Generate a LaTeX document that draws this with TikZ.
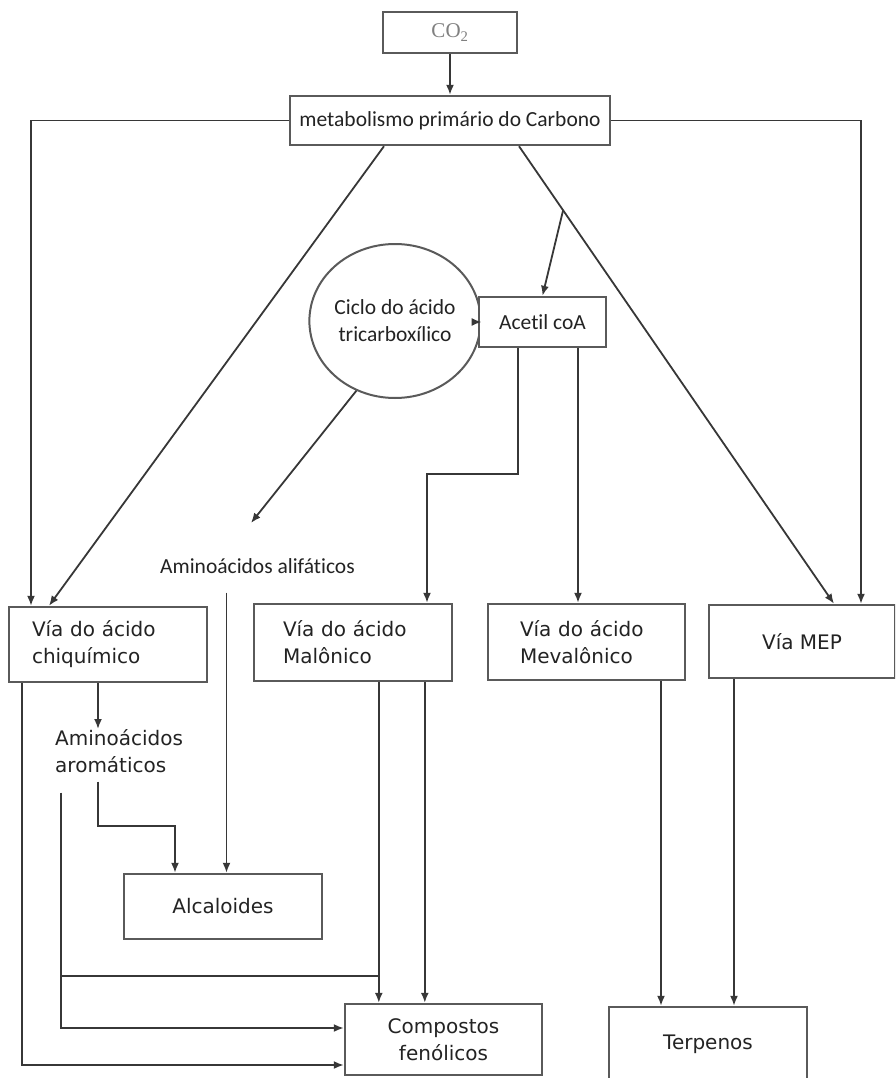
\documentclass[tikz,border=0pt]{standalone}
\usepackage{fontspec}
\setmainfont{DejaVu Sans}
\newfontfamily\calibrifont[Ligatures=NoCommon]{Carlito}
\newfontfamily\timesfont{Liberation Serif}
\definecolor{linegray}{RGB}{55, 55, 55}
\definecolor{boxgray}{RGB}{90, 90, 90}
\definecolor{textgray}{RGB}{35, 35, 35}
\usetikzlibrary{shapes.geometric, arrows.meta, positioning, calc}
\tikzset{
    box/.style={
        rectangle, draw=boxgray, fill=white, line width=2.4pt,
        text=textgray, inner sep=0pt, align=center
    },
    pathbox/.style={
        box, align=left, font=\fontsize{20}{27}\selectfont
    },
    calib/.style={font=\calibrifont\fontsize{21.5}{27}\selectfont},
    verd/.style={font=\fontsize{20}{27}\selectfont},
    arrow/.style={-{Latex[length=10pt,width=8pt]}, line width=1.8pt, color=linegray},
    link/.style={line width=1.8pt, color=linegray},
    anno/.style={text=textgray, inner sep=0pt, align=left}
}

\begin{document}
\begin{tikzpicture}[x=1pt, y=-1pt]
    \useasboundingbox (0,0) rectangle (895,1078);
    \clip (0,0) rectangle (895,1078);

    % Source and primary metabolism
    \node[box, text=gray, font=\timesfont\fontsize{21}{24}\selectfont,
          minimum width=134pt, minimum height=41pt] (co2) at (450,32.5) {CO\textsubscript{2}};
    \node[box, calib, minimum width=320pt, minimum height=49pt] (metab) at (450,120.5) {metabolismo primário do Carbono};

    % Cycle and acetyl
    \node[ellipse, draw=boxgray, line width=2pt, fill=white, text=textgray, calib,
          minimum width=136pt, minimum height=154pt, inner sep=0pt, align=center] (ciclo) at (395,321) {Ciclo do ácido\\tricarboxílico};
    \node[box, calib, minimum width=127pt, minimum height=50pt] (acetil) at (542.5,322) {Acetil coA};
    \node[anno, calib] (alif) at (257.5,566) {Aminoácidos alifáticos};

    % Four pathways
    \node[pathbox, text width=152pt, inner xsep=23pt, minimum height=75pt] (chiq) at (108,644.5) {Vía do ácido\\chiquímico};
    \node[pathbox, text width=140pt, inner xsep=29pt, minimum height=77pt] (malo) at (353,642.5) {Vía do ácido\\Malônico};
    \node[pathbox, text width=133pt, inner xsep=32pt, minimum height=76pt] (meva) at (586.5,642) {Vía do ácido\\Mevalônico};
    \node[box, verd, minimum width=186pt, minimum height=73pt] (mep) at (802,641.5) {Vía MEP};

    % Products
    \node[anno, verd, anchor=north west] (arom) at (55,729) {Aminoácidos\\aromáticos};
    \node[box, verd, minimum width=198pt, minimum height=65pt] (alc) at (223,906.5) {Alcaloides};
    \node[box, verd, minimum width=197pt, minimum height=71pt] (comp) at (443.5,1039.5) {Compostos\\fenólicos};
    \node[box, verd, minimum width=198pt, minimum height=75pt] (terp) at (708,1044.5) {Terpenos};

    % Helper points
    \coordinate (rdstart) at ([xshift=69pt]metab.south);
    \coordinate (rdend) at ([xshift=32pt]mep.north);
    \coordinate (alifin) at (251,523);
    \coordinate (alifout) at ($(alif.south)+(-31,19)$);
    \coordinate (aromout) at ($(arom.south -| chiq.south)+(-10,9)$);
    \coordinate (aromleft) at ($(arom.south west)+(6,20)$);
    \coordinate (mjoin) at ($(malo.south west)+(126,294)$);

    % Arrows from primary metabolism
    \draw[arrow] (co2) -- (metab);
    \draw[arrow] (metab.west) -| ([xshift=-77pt]chiq.north);
    \draw[arrow] (metab.east) -| ([xshift=59pt]mep.north);
    \draw[arrow] ([xshift=-66pt]metab.south) -- ([xshift=-59pt]chiq.north);
    \draw[arrow] (rdstart) -- (rdend);
    \draw[arrow] ($(rdstart)!0.14!(rdend)$) -- (acetil.north);

    % Acetil coA branches
    \draw[arrow] (acetil.west) -- (acetil.west -| ciclo.east);
    \draw[arrow] ([xshift=-24.5pt]acetil.south) -- ++(0,126) -| ([xshift=74pt]malo.north);
    \draw[arrow] ([xshift=35.5pt]acetil.south) -- ([xshift=35.5pt]acetil.south |- meva.north);
    \draw[arrow] (ciclo.-119) -- (alifin);

    % Towards alkaloids
    \draw[arrow] ([xshift=-10pt]chiq.south) -- ([xshift=-10pt]chiq.south |- arom.north);
    \draw[arrow] (aromout) -- ++(0,44) -| ([xshift=-48pt]alc.north);
    \draw[arrow] (alifout) -- (alifout |- alc.north);

    % Towards phenolics
    \draw[arrow] ([xshift=14pt]chiq.south west) |- ([yshift=-25.5pt]comp.west);
    \draw[arrow] (aromleft) |- ([yshift=11.5pt]comp.west);
    \draw[link] (aromleft |- mjoin) -- (mjoin);
    \draw[arrow] ([xshift=126pt]malo.south west) -- ([xshift=126pt]malo.south west |- comp.north);
    \draw[arrow] ([xshift=172pt]malo.south west) -- ([xshift=172pt]malo.south west |- comp.north);

    % Towards terpenes
    \draw[arrow] ([xshift=74.5pt]meva.south) -- ([xshift=74.5pt]meva.south |- terp.north);
    \draw[arrow] ([xshift=-68pt]mep.south) -- ([xshift=-68pt]mep.south |- terp.north);

\end{tikzpicture}
\end{document}
